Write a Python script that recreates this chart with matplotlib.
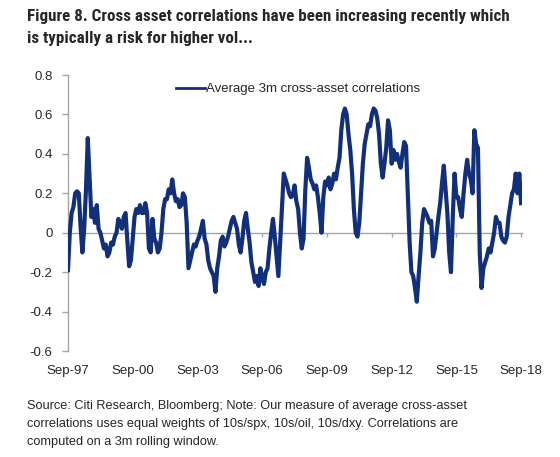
import matplotlib
matplotlib.use("Agg")
import matplotlib.pyplot as plt
import numpy as np
from matplotlib import font_manager

# ---------------- data ----------------
title_lines = [
    "Figure 8. Cross asset correlations have been increasing recently which",
    "is typically a risk for higher vol...",
]
series_name = "Average 3m cross-asset correlations"
source_lines = [
    "Source: Citi Research, Bloomberg; Note: Our measure of average cross-asset",
    "correlations uses equal weights of 10s/spx, 10s/oil, 10s/dxy. Correlations are",
    "computed on a 3m rolling window.",
]
x_tick_labels = ["Sep-97", "Sep-00", "Sep-03", "Sep-06", "Sep-09", "Sep-12", "Sep-15", "Sep-18"]
y_ticks = [-0.6, -0.4, -0.2, 0, 0.2, 0.4, 0.6, 0.8]
y_tick_labels = ["-0.6", "-0.4", "-0.2", "0", "0.2", "0.4", "0.6", "0.8"]

# monthly values, Sep-97 .. Sep-18
corr = [
    -0.19, 0.00, 0.10, 0.13, 0.20, 0.21, 0.20, 0.03, -0.10, 0.02,
    0.22, 0.48, 0.28, 0.08, 0.12, 0.05, 0.14, 0.02, 0.00, -0.04,
    -0.08, -0.06, -0.12, -0.10, -0.05, -0.06, -0.02, 0.00, 0.07, 0.05,
    0.02, 0.08, 0.10, -0.04, -0.17, -0.14, -0.03, 0.08, 0.12, 0.10,
    0.14, 0.10, 0.10, 0.15, 0.10, -0.08, -0.10, 0.07, -0.03, -0.05,
    -0.10, -0.08, 0.00, 0.12, 0.17, 0.17, 0.22, 0.20, 0.27, 0.20,
    0.16, 0.17, 0.13, 0.14, 0.20, 0.18, 0.05, -0.18, -0.14, -0.10,
    -0.06, -0.07, -0.04, -0.02, 0.02, 0.06, -0.03, -0.06, -0.14, -0.18,
    -0.20, -0.22, -0.30, -0.18, -0.12, -0.04, -0.02, -0.07, -0.05, -0.02,
    0.02, 0.06, 0.08, 0.05, 0.02, -0.06, -0.10, -0.03, 0.06, 0.10,
    0.02, -0.05, -0.15, -0.20, -0.25, -0.22, -0.27, -0.18, -0.23, -0.26,
    -0.20, -0.18, -0.08, 0.00, 0.07, -0.02, -0.12, -0.22, -0.05, 0.12,
    0.30, 0.27, 0.24, 0.20, 0.18, 0.19, 0.24, 0.16, 0.12, 0.00,
    -0.08, -0.03, 0.22, 0.38, 0.33, 0.27, 0.25, 0.22, 0.24, 0.18,
    0.10, 0.00, 0.18, 0.26, 0.24, 0.28, 0.22, 0.25, 0.30, 0.27,
    0.33, 0.38, 0.52, 0.60, 0.63, 0.60, 0.50, 0.42, 0.30, 0.12,
    0.00, -0.02, 0.05, 0.20, 0.35, 0.45, 0.50, 0.55, 0.54, 0.60,
    0.63, 0.62, 0.58, 0.50, 0.35, 0.28, 0.35, 0.43, 0.57, 0.52,
    0.35, 0.42, 0.37, 0.40, 0.36, 0.33, 0.40, 0.46, 0.44, 0.20,
    -0.05, -0.20, -0.22, -0.28, -0.35, -0.22, -0.10, 0.05, 0.12, 0.10,
    0.08, 0.05, 0.06, -0.12, -0.08, 0.00, 0.08, 0.15, 0.25, 0.34,
    0.22, 0.10, -0.10, -0.20, 0.08, 0.30, 0.18, 0.18, 0.12, 0.08,
    0.20, 0.30, 0.37, 0.30, 0.27, 0.20, 0.52, 0.45, 0.43, -0.10,
    -0.28, -0.18, -0.15, -0.12, -0.08, -0.10, -0.05, 0.00, 0.08, 0.05,
    0.05, -0.02, -0.04, -0.05, -0.02, 0.08, 0.14, 0.20, 0.22, 0.30,
    0.20, 0.30, 0.15,
]

# ---------------- style ----------------
navy = "#12307A"
grey = "#A6A6A6"
txt = "#262626"
base_font = ["Liberation Sans", "DejaVu Sans"]
installed = {f.name for f in font_manager.fontManager.ttflist}
narrow_candidates = ["Liberation Sans Narrow", "Arial Narrow", "Roboto Condensed",
                     "DejaVu Sans Condensed", "Roboto", "Liberation Sans"]
title_font = [f for f in narrow_candidates if f in installed] + ["DejaVu Sans"]
title_size = 12.5 if title_font[0] in ("Liberation Sans Narrow", "Arial Narrow", "Roboto Condensed") else 11.2
plt.rcParams["font.family"] = base_font

fig = plt.figure(figsize=(5.6, 4.57), dpi=100)
ax = fig.add_axes([68 / 560, 1 - 351 / 457, (522 - 68) / 560, (351 - 75) / 457])

x = np.arange(len(corr))
ax.plot(x, corr, color=navy, lw=3.0, solid_joinstyle="round", label=series_name, zorder=3)

ax.set_ylim(-0.6, 0.8)
ax.set_xlim(0, len(corr) - 0.5)
ax.set_yticks(y_ticks)
ax.set_yticklabels(y_tick_labels)
tick_pos = np.arange(0, len(corr), 36)
ax.set_xticks(tick_pos)
ax.set_xticklabels(x_tick_labels)

for s in ["top", "right", "bottom"]:
    ax.spines[s].set_visible(False)
ax.spines["left"].set_color(grey)
ax.spines["left"].set_linewidth(1.0)
ax.tick_params(axis="y", direction="out", length=4, width=1, color=grey,
               labelsize=9.5, labelcolor=txt, pad=7)
ax.tick_params(axis="x", length=0, labelsize=9.5, labelcolor=txt, pad=10)

# zero axis line with small ticks
zero_frac = (0 - (-0.6)) / (0.8 - (-0.6))
sec = ax.secondary_xaxis(zero_frac)
sec.set_xticks(tick_pos)
sec.set_xticklabels([])
sec.spines["bottom"].set_color(grey)
sec.spines["bottom"].set_linewidth(1.0)
sec.tick_params(axis="x", direction="out", length=3, width=1, color=grey)

leg = ax.legend(loc="upper left", bbox_to_anchor=(0.22, 1.0), frameon=False,
                fontsize=9.5, handlelength=2.2, handletextpad=0.1, borderaxespad=0.2)
for t in leg.get_texts():
    t.set_color(txt)
for h in leg.get_lines():
    h.set_linewidth(2.0)

t1 = fig.text(27 / 560, 1 - 16 / 457, title_lines[0], family=title_font, weight="bold",
              fontsize=title_size, color=txt, va="center", ha="left")
fig.text(27 / 560, 1 - 39 / 457, title_lines[1], family=title_font, weight="bold",
         fontsize=title_size, color=txt, va="center", ha="left")
# keep the first title line within the reference width (x 27..508 px)
fig.canvas.draw()
w = t1.get_window_extent().width
if w > 481:
    for t in fig.texts[-2:]:
        t.set_fontsize(title_size * 481 / w)

for k, line in enumerate(source_lines):
    fig.text(27 / 560, 1 - (406 + 17.8 * k) / 457, line, fontsize=9.2, color=txt,
             va="center", ha="left")

fig.savefig("out.png", dpi=100)
